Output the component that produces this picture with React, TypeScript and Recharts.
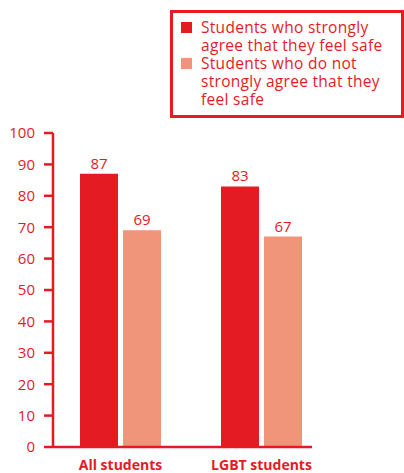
import React from "react";
import { BarChart, Bar, XAxis, YAxis, LabelList } from "recharts";

const categories = ["All students", "LGBT students"];
const stronglyAgree = [87, 83];
const notStronglyAgree = [69, 67];
const yTicks = [0, 10, 20, 30, 40, 50, 60, 70, 80, 90, 100];
const seriesNames = [
  "Students who strongly agree that they feel safe",
  "Students who do not strongly agree that they feel safe",
];

const RED = "#E41B23";
const SALMON = "#F1957A";
const seriesColors = [RED, SALMON];
const FONT = "'Open Sans', 'Noto Sans', sans-serif";

const data = categories.map((c, i) => ({
  category: c,
  a: stronglyAgree[i],
  b: notStronglyAgree[i],
}));

const XTick = (props: any) => {
  const { x, y, payload } = props;
  return (
    <text
      x={x}
      y={y + 23}
      textAnchor="middle"
      fill={RED}
      fontFamily={FONT}
      fontWeight={700}
      fontSize={14}
    >
      {payload.value}
    </text>
  );
};

const LegendBox = () => (
  <div
    style={{
      position: "absolute",
      left: 170,
      top: 10,
      boxSizing: "border-box",
      width: 234,
      height: 108,
      border: `3px solid ${RED}`,
      padding: "5px 0 0 8px",
      fontFamily: FONT,
      fontSize: 15.5,
      letterSpacing: 0.3,
      lineHeight: "18px",
      color: RED,
      textAlign: "left",
    }}
  >
    {seriesNames.map((name, i) => (
      <div key={i} style={{ display: "flex", alignItems: "flex-start" }}>
        <div
          style={{
            width: 11,
            height: 11,
            background: seriesColors[i],
            marginTop: 4,
            marginRight: 9,
            flexShrink: 0,
          }}
        />
        <div style={{ width: 196 }}>{name}</div>
      </div>
    ))}
  </div>
);

export default function App() {
  return (
    <div style={{ position: "absolute", left: 0, top: 0, width: 404, height: 473, background: "#fff" }}>
      <BarChart
        width={404}
        height={473}
        data={data}
        margin={{ top: 133, right: 92, bottom: 0, left: 0 }}
        barSize={38}
        barGap={5}
      >
        <XAxis
          dataKey="category"
          height={26}
          padding={{ left: -3, right: -20 }}
          axisLine={{ stroke: RED, strokeWidth: 2.5 }}
          tickLine={false}
          tickSize={0}
          tickMargin={0}
          tick={<XTick />}
          interval={0}
        />
        <YAxis
          width={53}
          domain={[0, 100]}
          ticks={yTicks}
          interval={0}
          axisLine={{ stroke: RED, strokeWidth: 2.5 }}
          tickLine={{ stroke: RED, strokeWidth: 2.5 }}
          tickSize={9}
          tickMargin={9}
          tick={{ fill: RED, fontSize: 15, fontFamily: FONT }}
        />
        <Bar dataKey="a" name={seriesNames[0]} fill={RED} isAnimationActive={false}>
          <LabelList dataKey="a" position="top" offset={5} fill={RED} fontSize={15} fontFamily={FONT} />
        </Bar>
        <Bar dataKey="b" name={seriesNames[1]} fill={SALMON} isAnimationActive={false}>
          <LabelList dataKey="b" position="top" offset={5} fill={RED} fontSize={15} fontFamily={FONT} />
        </Bar>
      </BarChart>
      <LegendBox />
    </div>
  );
}
